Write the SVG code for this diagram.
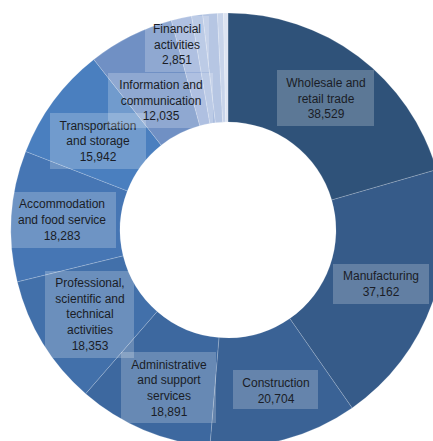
<svg xmlns="http://www.w3.org/2000/svg" width="433" height="441" viewBox="0 0 433 441">
<style>
.s{stroke:#ffffff;stroke-opacity:0.3;stroke-width:0.6}
.box{fill:#ffffff;fill-opacity:0.22}
.t{font-family:"Liberation Sans",Arial,sans-serif;font-size:12px;fill:#1a1d26;text-anchor:middle}
</style>
<rect width="433" height="441" fill="#ffffff"/>
<g id="slices">
<path id="slice-wholesale" class="s" fill="#2f5279" d="M228,13 A217,217 0 0 1 436.45,169.67 L331.74,199.98 A108,108 0 0 0 228,122 Z"/>
<path id="slice-manufacturing" class="s" fill="#365b89" d="M436.45,169.67 A217,217 0 0 1 352.15,407.98 L289.79,318.58 A108,108 0 0 0 331.74,199.98 Z"/>
<path id="slice-construction" class="s" fill="#3a6295" d="M352.15,407.98 A217,217 0 0 1 209.88,446.24 L218.98,337.62 A108,108 0 0 0 289.79,318.58 Z"/>
<path id="slice-admin" class="s" fill="#3d689f" d="M209.88,446.24 A217,217 0 0 1 85.63,393.77 L157.14,311.51 A108,108 0 0 0 218.98,337.62 Z"/>
<path id="slice-professional" class="s" fill="#4270aa" d="M85.63,393.77 A217,217 0 0 1 17.29,281.84 L123.13,255.80 A108,108 0 0 0 157.14,311.51 Z"/>
<path id="slice-accommodation" class="s" fill="#4676b4" d="M17.29,281.84 A217,217 0 0 1 25.73,151.42 L127.33,190.89 A108,108 0 0 0 123.13,255.80 Z"/>
<path id="slice-transportation" class="s" fill="#4a7fbf" d="M25.73,151.42 A217,217 0 0 1 93.79,59.48 L161.20,145.13 A108,108 0 0 0 127.33,190.89 Z"/>
<path id="slice-information" class="s" fill="#7090c4" d="M93.79,59.48 A217,217 0 0 1 171.32,20.53 L199.79,125.75 A108,108 0 0 0 161.20,145.13 Z"/>
<path id="slice-financial" class="s" fill="#99afd9" d="M171.32,20.53 A217,217 0 0 1 191.54,16.08 L209.86,123.53 A108,108 0 0 0 199.79,125.75 Z"/>
<path id="slice-other1" class="s" fill="#aabddf" d="M191.54,16.08 A217,217 0 0 1 202.68,14.48 L215.40,122.73 A108,108 0 0 0 209.86,123.53 Z"/>
<path id="slice-other2" class="s" fill="#b6c6e3" d="M202.68,14.48 A217,217 0 0 1 217.40,13.26 L222.73,122.13 A108,108 0 0 0 215.40,122.73 Z"/>
<path id="slice-other3" class="s" fill="#c8d4ea" d="M217.40,13.26 A217,217 0 0 1 223.46,13.05 L225.74,122.02 A108,108 0 0 0 222.73,122.13 Z"/>
<path id="slice-other4" class="s" fill="#dde4f2" d="M223.46,13.05 A217,217 0 0 1 228,13 L228,122 A108,108 0 0 0 225.74,122.02 Z"/>
</g>
<g id="label-wholesale">
<rect class="box" x="277" y="70" width="97" height="56"/>
<text class="t" x="326" y="87">Wholesale and</text>
<text class="t" x="326" y="103">retail trade</text>
<text class="t" x="326" y="118">38,529</text>
</g>
<g id="label-manufacturing">
<rect class="box" x="333" y="264" width="96" height="40"/>
<text class="t" x="381" y="280">Manufacturing</text>
<text class="t" x="381" y="296">37,162</text>
</g>
<g id="label-construction">
<rect class="box" x="233" y="370" width="85" height="39"/>
<text class="t" x="276" y="387">Construction</text>
<text class="t" x="276" y="403">20,704</text>
</g>
<g id="label-admin">
<rect class="box" x="121" y="352" width="95" height="71"/>
<text class="t" x="169" y="369">Administrative</text>
<text class="t" x="169" y="384">and support</text>
<text class="t" x="169" y="400">services</text>
<text class="t" x="169" y="416">18,891</text>
</g>
<g id="label-professional">
<rect class="box" x="45" y="271" width="89" height="87"/>
<text class="t" x="90" y="287">Professional,</text>
<text class="t" x="90" y="303">scientific and</text>
<text class="t" x="90" y="318">technical</text>
<text class="t" x="90" y="334">activities</text>
<text class="t" x="90" y="350">18,353</text>
</g>
<g id="label-accommodation">
<rect class="box" x="9" y="192" width="107" height="56"/>
<text class="t" x="62" y="208">Accommodation</text>
<text class="t" x="62" y="224">and food service</text>
<text class="t" x="62" y="240">18,283</text>
</g>
<g id="label-transportation">
<rect class="box" x="50" y="113" width="96" height="56"/>
<text class="t" x="98" y="130">Transportation</text>
<text class="t" x="98" y="145">and storage</text>
<text class="t" x="98" y="161">15,942</text>
</g>
<g id="label-information">
<rect class="box" x="108" y="73" width="105" height="55"/>
<text class="t" x="161" y="89">Information and</text>
<text class="t" x="161" y="105">communication</text>
<text class="t" x="161" y="120">12,035</text>
</g>
<g id="label-financial">
<rect class="box" x="145" y="16" width="64" height="56"/>
<text class="t" x="177" y="33">Financial</text>
<text class="t" x="177" y="49">activities</text>
<text class="t" x="177" y="64">2,851</text>
</g>
</svg>
